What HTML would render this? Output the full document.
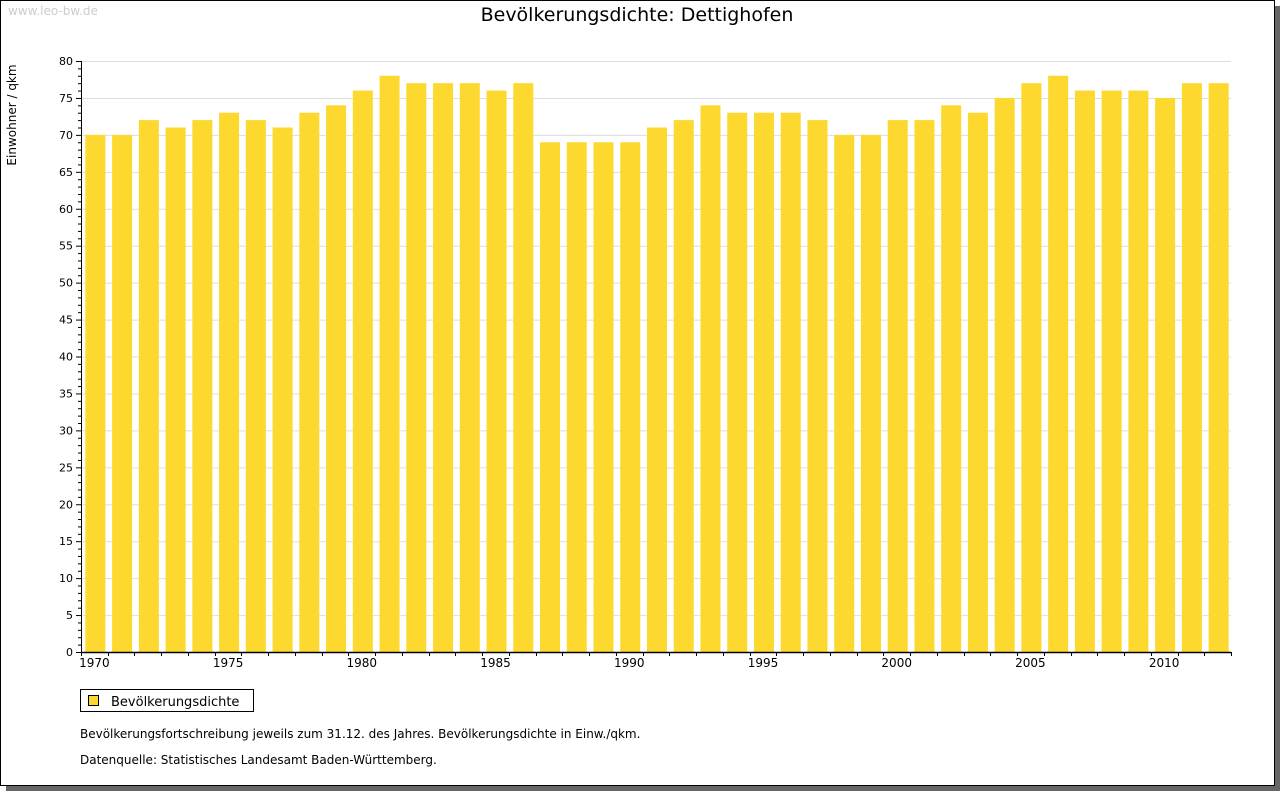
<!DOCTYPE html>
<html><head><meta charset="utf-8"><style>
body{margin:0;background:#fff;}
svg text{font-family:"DejaVu Sans","Liberation Sans",sans-serif;}
</style></head><body>
<svg id="chart" width="1280" height="791" xmlns="http://www.w3.org/2000/svg">
<rect x="6" y="6" width="1274" height="785" fill="#666"/>
<rect x="0.5" y="0.5" width="1274" height="785" fill="#fff" stroke="#000"/>
<text x="8" y="15" font-size="12" fill="#ccc">www.leo-bw.de</text>
<text x="637" y="21" font-size="19" text-anchor="middle" fill="#000">Bevölkerungsdichte: Dettighofen</text>
<text transform="translate(16,115) rotate(-90)" font-size="12" text-anchor="middle">Einwohner / qkm</text>
<g id="grid"></g><g id="bars"></g><g id="axes"></g>
<rect x="80.5" y="689.5" width="173" height="22" fill="#fff" stroke="#000"/>
<rect x="88.5" y="695.5" width="10" height="10" fill="#fdd82f" stroke="#000"/>
<text x="111" y="706" font-size="13">Bevölkerungsdichte</text>
<text x="80" y="738" font-size="12">Bevölkerungsfortschreibung jeweils zum 31.12. des Jahres. Bevölkerungsdichte in Einw./qkm.</text>
<text x="80" y="764" font-size="12">Datenquelle: Statistisches Landesamt Baden-Württemberg.</text>
</svg>
<script>
const years=[1970,1971,1972,1973,1974,1975,1976,1977,1978,1979,1980,1981,1982,1983,1984,1985,1986,1987,1988,1989,1990,1991,1992,1993,1994,1995,1996,1997,1998,1999,2000,2001,2002,2003,2004,2005,2006,2007,2008,2009,2010,2011,2012];
const values=[70,70,72,71,72,73,72,71,73,74,76,78,77,77,77,76,77,69,69,69,69,71,72,74,73,73,73,72,70,70,72,72,74,73,75,77,78,76,76,76,75,77,77];
const yTicks=[0,5,10,15,20,25,30,35,40,45,50,55,60,65,70,75,80];
const xLabels=[1970,1975,1980,1985,1990,1995,2000,2005,2010];
const NS="http://www.w3.org/2000/svg";
const L=81,R=1231,T=61,B=652,YMAX=80;
const step=(R-L)/years.length;
const y=v=>B-(v/YMAX)*(B-T);
const x=i=>L+step*(i+0.5);
function mk(t,a,p){const e=document.createElementNS(NS,t);for(const k in a)e.setAttribute(k,a[k]);p.appendChild(e);return e;}
const grid=document.getElementById('grid'),bars=document.getElementById('bars'),axes=document.getElementById('axes');
yTicks.forEach(v=>{
 if(v>0){const g=mk('line',{x1:L,x2:R,y1:y(v)+0.5,y2:y(v)+0.5,stroke:'#ddd'},grid);
 
 }
 const t=mk('text',{x:L-8,y:y(v)+4,'font-size':11,'text-anchor':'end'},axes);t.textContent=v;
 
 
 mk('line',{x1:L-5,x2:L,y1:y(v)+0.5,y2:y(v)+0.5,stroke:'#000'},axes);
});
for(let v=0;v<=YMAX;v++){if(v%5)mk('line',{x1:L-3,x2:L,y1:y(v)+0.5,y2:y(v)+0.5,stroke:'#000'},axes);}
values.forEach((v,i)=>{
 const r=mk('rect',{x:x(i)-9,y:y(v),width:20,height:B-y(v),fill:'#fdd82f'},bars);
 
 
});
for(let i=0;i<=years.length;i++){const xx=Math.round(L+step*i)+0.5;mk('line',{x1:xx,x2:xx,y1:B,y2:B+4,stroke:'#000'},axes);}
xLabels.forEach(yr=>{const i=years.indexOf(yr);
 const t=mk('text',{x:x(i),y:B+15,'font-size':12,'text-anchor':'middle'},axes);t.textContent=yr;
 
 });
const ya=mk('line',{x1:L+0.5,x2:L+0.5,y1:T,y2:B+1,stroke:'#000'},axes);


const xa=mk('line',{x1:L,x2:R,y1:B+0.5,y2:B+0.5,stroke:'#000','stroke-width':1.5},axes);


</script>
</body></html>
